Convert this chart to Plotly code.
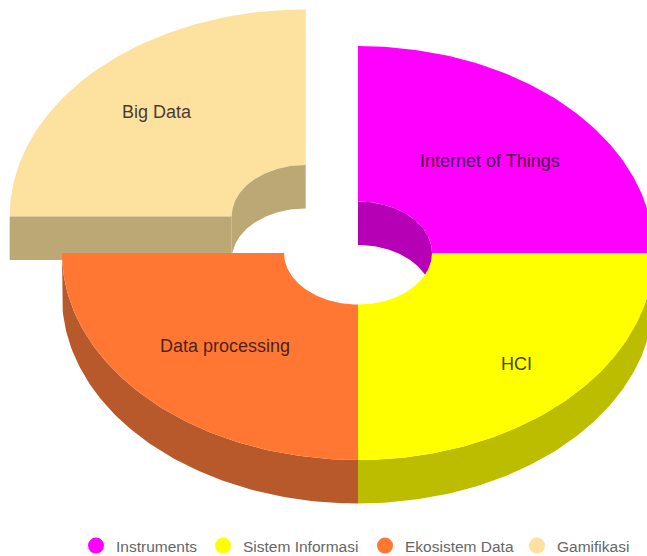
"""Exploded 3D donut, drawn as filled polygons on pixel-sized axes."""

import numpy as np
import plotly.graph_objects as go

TOPICS = ["Internet of Things", "HCI", "Data processing", "Big Data"]
SERIES = ["Instruments", "Sistem Informasi", "Ekosistem Data", "Gamifikasi"]
VALUES = [25, 25, 25, 25]
PULL = [0, 0, 0, 0.25]
COLORS = ["#FF00FF", "#FFFF00", "#FF7733", "#FDE19F"]
WALL_COLORS = ["#B500B5", "#BDBD00", "#B8592B", "#BCA874"]

WIDTH, HEIGHT = 647, 556
CX, CY = 358, 253
RX, RY = 296, 207
HOLE_RX, HOLE_RY = 74, 51.5
DEPTH = 43.5
LABEL_R = [0.63, 0.755, 0.635, 0.71]
LEGEND_X = [76, 203, 365, 517]
LEGEND_Y = 546

FONT = "Liberation Sans, Arial, sans-serif"


def arc(cx, cy, rx, ry, start, stop):
    t = np.radians(np.linspace(start, stop, 90))
    return cx + rx * np.cos(t), cy - ry * np.sin(t)


def poly(fig, xs, ys, color):
    fig.add_trace(
        go.Scatter(
            x=np.concatenate(xs),
            y=np.concatenate(ys),
            mode="lines",
            fill="toself",
            fillcolor=color,
            line=dict(width=0, color=color),
            hoverinfo="skip",
            showlegend=False,
        )
    )


# Slices run clockwise from 12 o'clock.
fractions = np.array(VALUES) / sum(VALUES)
edges = 90 - 360 * np.concatenate([[0], np.cumsum(fractions)])
slices = []
for i in range(len(VALUES)):
    start, stop = edges[i], edges[i + 1]
    mid = np.radians((start + stop) / 2)
    cx = CX + RX * PULL[i] * np.cos(mid)
    cy = CY - RY * PULL[i] * np.sin(mid)
    slices.append((cx, cy, start, stop, mid))


def draw_top(fig, i):
    cx, cy, start, stop, _ = slices[i]
    ox, oy = arc(cx, cy, RX, RY, start, stop)
    ix, iy = arc(cx, cy, HOLE_RX, HOLE_RY, stop, start)
    poly(fig, [ox, ix], [oy, iy], COLORS[i])


def draw_inner_wall(fig, i):
    cx, cy, start, stop, _ = slices[i]
    ax, ay = arc(cx, cy, HOLE_RX, HOLE_RY, start, stop)
    bx, by = arc(cx, cy + DEPTH, HOLE_RX, HOLE_RY, stop, start)
    poly(fig, [ax, bx], [ay, by], WALL_COLORS[i])


def draw_outer_wall(fig, i):
    cx, cy, start, stop, _ = slices[i]
    ax, ay = arc(cx, cy, RX, RY, start, stop)
    bx, by = arc(cx, cy + DEPTH, RX, RY, stop, start)
    poly(fig, [ax, bx], [ay, by], WALL_COLORS[i])


def draw_cut_face(fig, i):
    # Flat face of the pulled slice on its 9 o'clock side.
    cx, cy, start, _, _ = slices[i]
    t = np.radians(start)
    x0 = cx + RX * np.cos(t)
    x1 = cx + HOLE_RX * np.cos(t)
    y0 = cy - RY * np.sin(t)
    poly(fig, [np.array([x0, x1, x1, x0])], [np.array([y0, y0, y0 + DEPTH, y0 + DEPTH])], WALL_COLORS[i])


fig = go.Figure()

# Painter's order: back pieces first.
draw_top(fig, 3)
draw_inner_wall(fig, 3)
draw_cut_face(fig, 3)
draw_top(fig, 0)
draw_inner_wall(fig, 0)
draw_outer_wall(fig, 1)
draw_outer_wall(fig, 2)
draw_top(fig, 1)
draw_top(fig, 2)

for i, topic in enumerate(TOPICS):
    cx, cy, _, _, mid = slices[i]
    fig.add_annotation(
        x=cx + RX * LABEL_R[i] * np.cos(mid),
        y=cy - RY * LABEL_R[i] * np.sin(mid),
        text=topic,
        showarrow=False,
        font=dict(family=FONT, size=18, color="rgba(20,10,20,0.8)"),
    )

legends = {}
for i, name in enumerate(SERIES):
    key = "legend" if i == 0 else f"legend{i + 1}"
    fig.add_trace(
        go.Scatter(
            x=[None],
            y=[None],
            mode="markers",
            name=name,
            marker=dict(size=16, color=COLORS[i]),
            legend=key,
            showlegend=True,
        )
    )
    legends[key] = dict(
        x=LEGEND_X[i] / WIDTH,
        y=1 - LEGEND_Y / HEIGHT,
        xanchor="left",
        yanchor="middle",
        bgcolor="rgba(0,0,0,0)",
        itemwidth=30,
        font=dict(family=FONT, size=15.5, color="#666"),
    )

fig.update_layout(
    width=WIDTH,
    height=HEIGHT,
    # Without autoexpand=False the legends push the bottom margin up.
    margin=dict(l=0, r=0, t=0, b=0, autoexpand=False),
    paper_bgcolor="white",
    plot_bgcolor="white",
    xaxis=dict(range=[0, WIDTH], visible=False, fixedrange=True),
    yaxis=dict(range=[HEIGHT, 0], visible=False, fixedrange=True),
    **legends,
)

# The page's default body margin would push the plot off by 8px.
fig.write_html(
    "out.html",
    config={"displayModeBar": False},
    post_script="document.body.style.margin = '0';",
)
